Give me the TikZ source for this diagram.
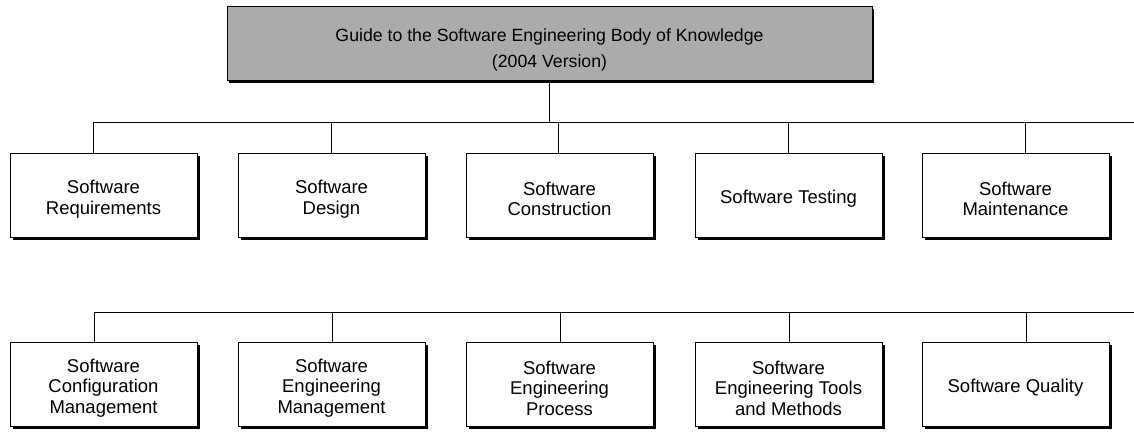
\documentclass[tikz,border=0pt]{standalone}
\usepackage{fontspec}
\setmainfont{Liberation Sans}
\usetikzlibrary{shadows}
\newcommand{\boxstrut}{\rule{0pt}{21.5pt}}
\newcommand{\titlestrut}{\rule{0pt}{27pt}}
\begin{document}
\begin{tikzpicture}[x=1pt,y=-1pt,
  kabox/.style={draw=black, line width=0.9pt, fill=white, minimum width=187pt, minimum height=84pt,
    align=center, inner sep=2pt, font=\fontsize{18.5}{20.5}\selectfont,
    drop shadow={shadow xshift=3pt, shadow yshift=-3pt, fill=black, opacity=1}},
  titlebox/.style={draw=black, line width=0.9pt, fill=black!33, minimum width=645pt, minimum height=74pt,
    align=center, inner sep=2pt, font=\fontsize{17.7}{26}\selectfont,
    drop shadow={shadow xshift=2pt, shadow yshift=-3pt, fill=black, opacity=1}},
  link/.style={draw=black, line width=0.9pt}]
\useasboundingbox (0,0) rectangle (1134,432);

\node[titlebox] (title) at (549.5,43) {\titlestrut Guide to the Software Engineering Body of Knowledge\\(2004 Version)};

% row 1
\node[kabox] (r1a) at (103.5,195) {\boxstrut Software\\Requirements};
\node[kabox] (r1b) at (331.5,195) {\boxstrut Software\\Design};
\node[kabox] (r1c) at (559.5,195) {\boxstrut Software\\Construction};
\node[kabox] (r1d) at (788.5,195) {\boxstrut Software Testing};
\node[kabox] (r1e) at (1015.5,195) {\boxstrut Software\\Maintenance};

% row 2
\node[kabox] (r2a) at (103.5,384) {\boxstrut Software\\Configuration\\Management};
\node[kabox] (r2b) at (331.5,384) {\boxstrut Software\\Engineering\\Management};
\node[kabox] (r2c) at (559.5,384) {\boxstrut Software\\Engineering\\Process};
\node[kabox] (r2d) at (788.5,384) {\boxstrut Software\\Engineering Tools\\and Methods};
\node[kabox] (r2e) at (1015.5,384) {\boxstrut Software Quality};

% bus 1
\coordinate (b1a) at (93,122);
\coordinate (b1b) at (331,122);
\coordinate (b1c) at (558,122);
\coordinate (b1d) at (788,122);
\coordinate (b1e) at (1025,122);
\coordinate (b1end) at (1134,122);
\draw[link] (b1a) -- (b1end);
\draw[link] (title.south) -- (title.south |- b1a);
\draw[link] (b1a) -- (b1a |- r1a.north);
\draw[link] (b1b) -- (b1b |- r1b.north);
\draw[link] (b1c) -- (b1c |- r1c.north);
\draw[link] (b1d) -- (b1d |- r1d.north);
\draw[link] (b1e) -- (b1e |- r1e.north);

% bus 2
\coordinate (b2a) at (94,312);
\coordinate (b2b) at (332,312);
\coordinate (b2c) at (560,312);
\coordinate (b2d) at (789,312);
\coordinate (b2e) at (1026,312);
\coordinate (b2end) at (1134,312);
\draw[link] (b2a) -- (b2end);
\draw[link] (b2a) -- (b2a |- r2a.north);
\draw[link] (b2b) -- (b2b |- r2b.north);
\draw[link] (b2c) -- (b2c |- r2c.north);
\draw[link] (b2d) -- (b2d |- r2d.north);
\draw[link] (b2e) -- (b2e |- r2e.north);
\end{tikzpicture}
\end{document}
